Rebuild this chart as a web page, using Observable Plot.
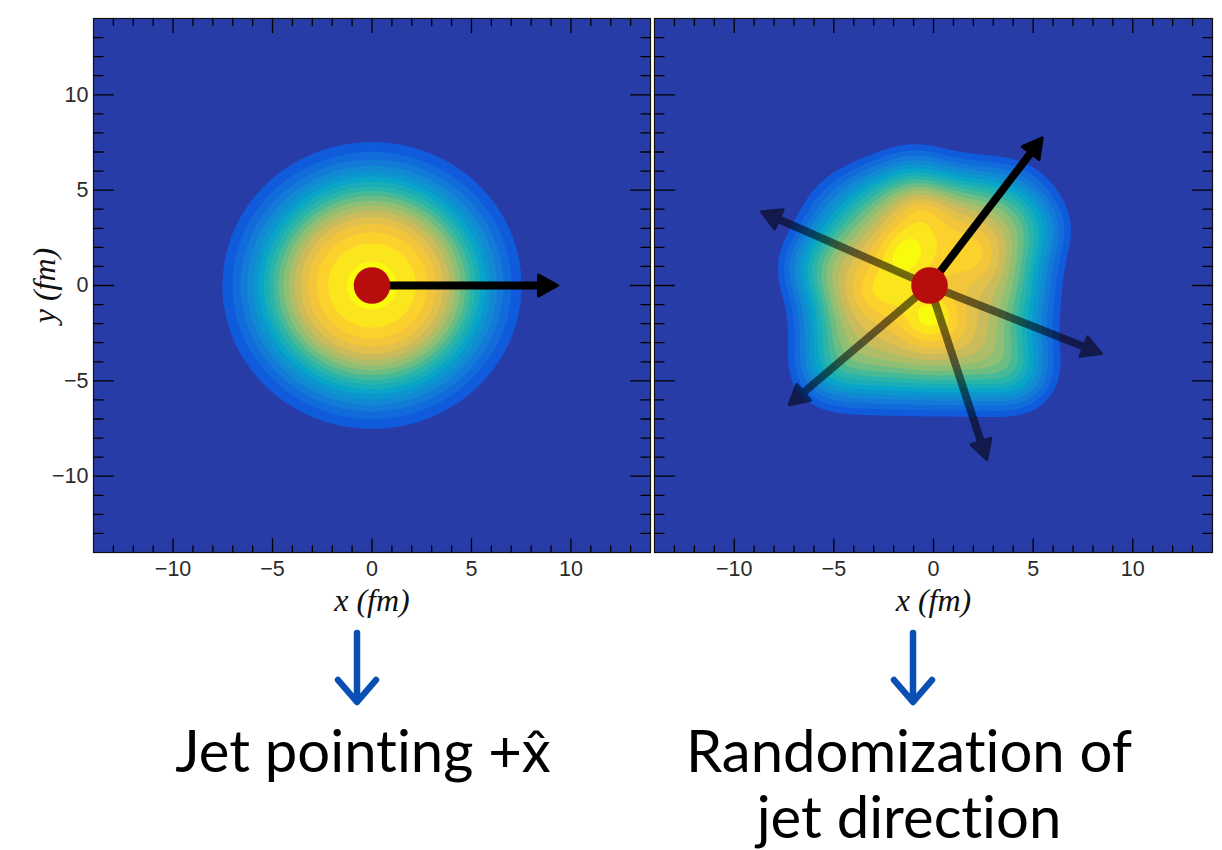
<!DOCTYPE html>
<html>
<head>
<meta charset="utf-8">
<script src="https://cdn.jsdelivr.net/npm/d3@7"></script>
<script src="https://cdn.jsdelivr.net/npm/@observablehq/plot@0.6"></script>
<style>
  html, body { margin: 0; padding: 0; background: #fff; }
  #root { position: relative; width: 1222px; height: 850px; overflow: hidden; background: #fff; }
  #root > svg, #root > figure { position: absolute; top: 0; margin: 0; }
</style>
</head>
<body>
<div id="root"></div>
<script>
// ---------------- data ----------------
const axisDomain = [-14, 14];
const majorTicks = [-10, -5, 0, 5, 10];
const minorTicks = [-13, -12, -11, -9, -8, -7, -6, -4, -3, -2, -1, 1, 2, 3, 4, 6, 7, 8, 9, 11, 12, 13];

// ROOT "kBird" palette stops
const palette = ["#352a87", "#0f5cdd", "#1481d6", "#06a4ca", "#2eb7a4", "#87bf77", "#d1bb59", "#fec832", "#f9fb0e"];
const colorDomain = [0, 0.97];
const backgroundColor = "#283ca8";
const contourLevels = [0.12, 0.17, 0.22, 0.27, 0.32, 0.37, 0.42, 0.47, 0.52, 0.57, 0.62, 0.67, 0.72, 0.77, 0.82, 0.87, 0.92, 0.97];

// left panel: smooth (event-averaged) medium — Woods–Saxon-like profile
const leftSrcX = [0];
const leftSrcY = [0];
const leftSrcRadius = [5.0];
const leftSrcDiffuse = [1.25];

// right panel: fluctuating medium — hot spots (x, y, weight, width)
const rightSrcX = [
  -4.8, -2.6, -0.4, 1.8, 4.0,
  -4.8, -2.6, -0.4, 1.8, 4.0,
  -4.8, -2.6, -0.4, 1.8, 4.0,
  -4.8, -2.6, -0.4, 1.8, 4.0,
  -4.8, -2.6, -0.4, 1.8, 4.0,
  -1.5, -0.15, 2.0, -2.7, -0.6,
  -6.4, -1.0, 5.6, -5.6, 4.4
];
const rightSrcY = [
   4.4,  4.4,  4.4,  4.4,  4.4,
   2.2,  2.2,  2.2,  2.2,  2.2,
   0.0,  0.0,  0.0,  0.0,  0.0,
  -2.2, -2.2, -2.2, -2.2, -2.2,
  -4.4, -4.4, -4.4, -4.4, -4.4,
   1.7, -1.7,  1.6, -0.4,  3.9,
   1.0,  6.0,  3.0, -4.6, -5.0
];
const rightSrcW = [
  0.30, 0.90, 1.00, 0.85, 0.80,
  0.85, 0.85, 1.00, 1.00, 0.85,
  1.00, 1.00, 0.95, 0.80, 0.90,
  0.85, 0.85, 1.00, 0.95, 0.60,
  0.75, 0.80, 0.85, 0.85, 0.85,
  0.45, 0.45, 0.25, 0.25, 0.25,
  0.35, 0.30, 0.30, 0.25, 0.25
];
const rightSrcSigma = [
  1.5, 1.5, 1.5, 1.5, 1.5,
  1.5, 1.5, 1.5, 1.5, 1.5,
  1.5, 1.5, 1.5, 1.5, 1.5,
  1.5, 1.5, 1.5, 1.5, 1.5,
  1.5, 1.5, 1.5, 1.5, 1.5,
  1.0, 1.0, 1.0, 1.0, 1.0,
  1.2, 1.3, 1.2, 1.2, 1.2
];

// jet production point and jet tips
const leftCoreX = [0], leftCoreY = [0];
const rightCoreX = [-0.2], rightCoreY = [0];
const leftJetTipX = [9.4], leftJetTipY = [0], leftJetAlpha = [1];
const rightJetTipX = [5.5, -8.7, 8.5, 2.7, -7.3];
const rightJetTipY = [7.8, 3.9, -3.6, -9.2, -6.3];
const rightJetAlpha = [1, 0.55, 0.55, 0.55, 0.55];

// captions under the panels
const captionLines = [["Jet pointing +x\u0302"], ["Randomization of", "jet direction"]];
const captionCenterX = [363, 909];
const arrowCenterX = [357, 913];

// ---------------- layout ----------------
const H = 620, MT = 18, MB = 68;

function normalize(f) {
  let m = 0;
  for (let x = -14; x <= 14; x += 0.1) for (let y = -14; y <= 14; y += 0.1) m = Math.max(m, f(x, y));
  return (x, y) => f(x, y) / m;
}
function woodsSaxonField(xs, ys, rs, as) {
  return normalize((x, y) => {
    let v = 0;
    for (let i = 0; i < xs.length; i++) {
      const r = Math.hypot(x - xs[i], y - ys[i]);
      v += 1 / (1 + Math.exp((r - rs[i]) / as[i]));
    }
    return v;
  });
}
function hotspotField(xs, ys, ws, ss) {
  return normalize((x, y) => {
    let v = 0;
    for (let i = 0; i < xs.length; i++) {
      const dx = x - xs[i], dy = y - ys[i];
      v += ws[i] * Math.exp(-(dx * dx + dy * dy) / (2 * ss[i] * ss[i]));
    }
    return v;
  });
}

const tickShape = { draw(ctx, l) { ctx.moveTo(0, 0); ctx.lineTo(0, -l); } };
function tickMarks() {
  const o = { shape: tickShape, anchor: "start", stroke: "#000", strokeWidth: 1.3 };
  const id = d => d;
  return [
    Plot.vector(majorTicks, { ...o, x: id, frameAnchor: "bottom", length: 13.5, rotate: 0 }),
    Plot.vector(minorTicks, { ...o, x: id, frameAnchor: "bottom", length: 6.5, rotate: 0 }),
    Plot.vector(majorTicks, { ...o, x: id, frameAnchor: "top", length: 14, rotate: 180 }),
    Plot.vector(minorTicks, { ...o, x: id, frameAnchor: "top", length: 7, rotate: 180 }),
    Plot.vector(majorTicks, { ...o, y: id, frameAnchor: "left", length: 20, rotate: 90 }),
    Plot.vector(minorTicks, { ...o, y: id, frameAnchor: "left", length: 9.5, rotate: 90 }),
    Plot.vector(majorTicks, { ...o, y: id, frameAnchor: "right", length: 20, rotate: -90 }),
    Plot.vector(minorTicks, { ...o, y: id, frameAnchor: "right", length: 9.5, rotate: -90 })
  ];
}

function jetShape(hw0, hw1, hl) {
  return {
    draw(ctx, l) {
      const b = l - hl;
      ctx.moveTo(-hw0, 0); ctx.lineTo(-hw0, -b); ctx.lineTo(-hw1, -b); ctx.lineTo(0, -l);
      ctx.lineTo(hw1, -b); ctx.lineTo(hw0, -b); ctx.lineTo(hw0, 0); ctx.closePath();
    }
  };
}

function jetMarks(tipX, tipY, alpha, cx, cy, kx, ky) {
  return tipX.map((tx, i) => {
    const dxp = (tx - cx) * kx, dyp = (tipY[i] - cy) * ky;
    const len = Math.hypot(dxp, dyp) - 1.5;
    const rot = Math.atan2(dxp, dyp) * 180 / Math.PI;
    return Plot.vector([{ x: cx, y: cy }], {
      x: "x", y: "y", anchor: "start", length: len, rotate: rot,
      shape: jetShape(2.4, 10.5, 19),
      fill: "#000", stroke: "#000", strokeWidth: 3, strokeLinejoin: "round",
      opacity: alpha[i]
    });
  });
}

function panel({ width, marginLeft, marginRight, field, showY, jets, core }) {
  const kx = (width - marginLeft - marginRight) / (axisDomain[1] - axisDomain[0]);
  const ky = (H - MT - MB) / (axisDomain[1] - axisDomain[0]);
  const font = "'Liberation Sans', Arial, Helvetica, sans-serif";
  const titleStyle = { fontFamily: "'Liberation Serif', 'Times New Roman', serif", fontStyle: "italic", fontSize: 32, fill: "#111", textAnchor: "middle", lineAnchor: "middle" };
  return Plot.plot({
    width, height: H, marginTop: MT, marginBottom: MB, marginLeft, marginRight,
    x: { domain: axisDomain, axis: null },
    y: { domain: axisDomain, axis: null },
    color: { type: "linear", domain: colorDomain, clamp: true, interpolate: d3.piecewise(d3.interpolateRgb, palette) },
    style: { background: "transparent", overflow: "visible" },
    marks: [
      Plot.frame({ fill: backgroundColor }),
      Plot.contour({
        value: field, x1: axisDomain[0], x2: axisDomain[1], y1: axisDomain[0], y2: axisDomain[1],
        thresholds: contourLevels, fill: "value", stroke: "none", pixelSize: 1
      }),
      ...tickMarks(),
      Plot.frame({ stroke: "#111", strokeWidth: 1.2 }),
      Plot.axisX(majorTicks, { anchor: "bottom", tickSize: 0, tickPadding: 8, fontSize: 21.5, fontFamily: font, color: "#2a2a2a", label: null }),
      showY ? Plot.axisY(majorTicks, { anchor: "left", tickSize: 0, tickPadding: 5, fontSize: 21.5, fontFamily: font, color: "#2a2a2a", label: null }) : null,
      Plot.text(["x (fm)"], { ...titleStyle, frameAnchor: "bottom", dy: 48 }),
      showY ? Plot.text(["y (fm)"], { ...titleStyle, frameAnchor: "left", dx: -49, rotate: -90 }) : null,
      ...jetMarks(jets.x, jets.y, jets.a, core.x[0], core.y[0], kx, ky),
      Plot.dot(core.x.map((x, i) => ({ x, y: core.y[i] })), { x: "x", y: "y", r: 18.3, fill: "#b80d0d", stroke: "none" })
    ]
  });
}

const root = document.getElementById("root");

const left = panel({
  width: 652, marginLeft: 93, marginRight: 2,
  field: woodsSaxonField(leftSrcX, leftSrcY, leftSrcRadius, leftSrcDiffuse),
  showY: true,
  jets: { x: leftJetTipX, y: leftJetTipY, a: leftJetAlpha },
  core: { x: leftCoreX, y: leftCoreY }
});
left.style.left = "0px";
root.appendChild(left);

const right = panel({
  width: 570, marginLeft: 2, marginRight: 10,
  field: hotspotField(rightSrcX, rightSrcY, rightSrcW, rightSrcSigma),
  showY: false,
  jets: { x: rightJetTipX, y: rightJetTipY, a: rightJetAlpha },
  core: { x: rightCoreX, y: rightCoreY }
});
right.style.left = "652px";
root.appendChild(right);

// ---------------- annotations below the panels ----------------
const ns = "http://www.w3.org/2000/svg";
const ann = d3.create("svg").attr("xmlns", ns).attr("width", 1222).attr("height", 850)
  .style("position", "absolute").style("left", "0px").style("top", "0px").style("pointer-events", "none");
captionLines.forEach((lines, k) => {
  const ax = arrowCenterX[k];
  const g = ann.append("g").attr("stroke", "#0a4fb3").attr("stroke-width", 6.5).attr("stroke-linecap", "round").attr("stroke-linejoin", "round").attr("fill", "none");
  g.append("path").attr("d", `M${ax},633V701`);
  g.append("path").attr("d", `M${ax - 19},680L${ax},702L${ax + 19},680`);
  lines.forEach((ln, i) => {
    ann.append("text").attr("text-anchor", "middle").attr("font-family", "Lato, 'Noto Sans', sans-serif")
      .attr("font-weight", 400).style("font-variant-ligatures", "none")
      .attr("font-size", 58).attr("fill", "#000")
      .attr("x", captionCenterX[k]).attr("y", 772 + i * 66).text(ln);
  });
});
root.appendChild(ann.node());
</script>
</body>
</html>
